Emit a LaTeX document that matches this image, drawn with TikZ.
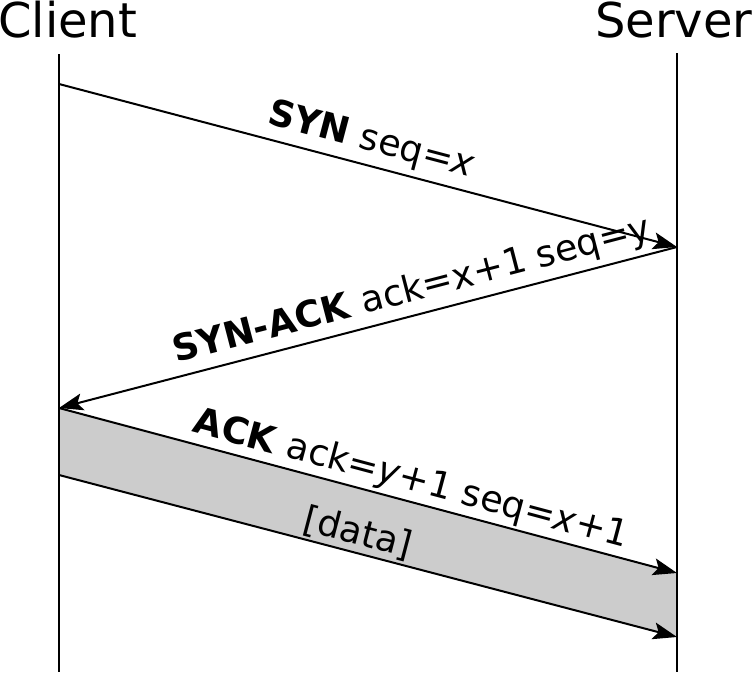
\documentclass[tikz,border=0pt]{standalone}
\usepackage{fontspec}
\setmainfont{DejaVu Sans}
\usetikzlibrary{arrows.meta}
\tikzset{
  life/.style={line width=1.6pt},
  msg/.style={line width=2pt,-{Stealth[length=24pt,width=17pt,inset=5pt]}},
  lbl/.style={inner sep=0pt,font=\fontsize{36.5}{40}\selectfont},
  head/.style={inner sep=0pt,anchor=base west,font=\fontsize{48}{52}\selectfont}
}
\begin{document}
\begin{tikzpicture}[x=1pt,y=-1pt]
\useasboundingbox (0,0) rectangle (752,672);
\node[head] (client) at (-2,37) {Client};
\node[head] (server) at (595,37) {Server};
\coordinate (ct) at (59,54);
\coordinate (cb) at (59,672);
\coordinate (st) at (677,53);
\coordinate (sb) at (677,672);
\coordinate (c1) at (59,84);
\coordinate (s1) at (677,247);
\coordinate (c2) at (59,408);
\coordinate (s2) at (677,573);
\coordinate (c3) at (59,475);
\coordinate (s3) at (677,637);
\fill[fill=black!20] (c2) -- (s2) -- (s3) -- (c3) -- cycle;
\draw[life] (ct) -- (cb);
\draw[life] (st) -- (sb);
\draw[msg] (c1) -- (s1);
\draw[msg] (s1) -- (c2);
\draw[msg] (c2) -- (s2);
\draw[msg] (c3) -- (s3);
\node[lbl,rotate=-14.78] (l1) at (371,141) {\textbf{SYN} seq=\textit{x}};
\node[lbl,rotate=14.6] (l2) at (412,291) {\textbf{SYN-ACK} ack=x+1 seq=y};
\node[lbl,rotate=-14.95] (l3) at (411,480) {\textbf{ACK} ack=\textit{y}+1 seq=\textit{x}+1};
\node[lbl,rotate=-14.7] (l4) at (358,533) {[data]};
\end{tikzpicture}
\end{document}
